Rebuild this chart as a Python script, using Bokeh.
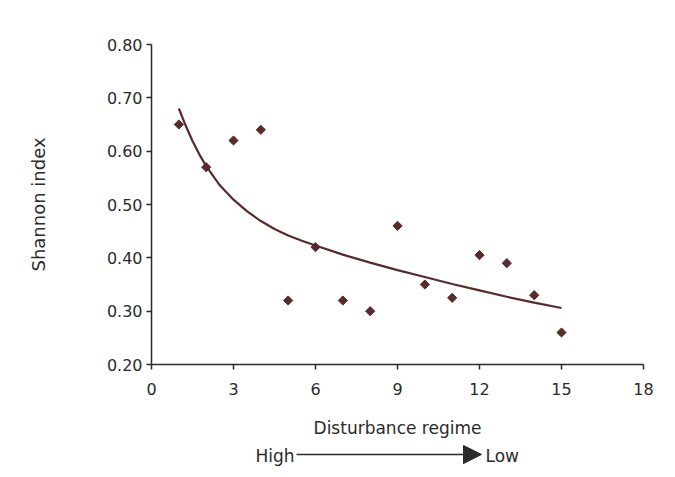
import math
from bokeh.plotting import figure
from bokeh.layouts import column
from bokeh.models import FixedTicker, NumeralTickFormatter, Range1d, Arrow, NormalHead, Label
from bokeh.embed import file_html
from bokeh.resources import INLINE

# ---- data ----
disturbance = [1, 2, 3, 4, 5, 6, 7, 8, 9, 10, 11, 12, 13, 14, 15]
shannon = [0.65, 0.57, 0.62, 0.64, 0.32, 0.42, 0.32, 0.30, 0.46, 0.35, 0.325, 0.405, 0.39, 0.33, 0.26]

# fitted trend curve
trend_x = [1, 1.25, 1.5, 1.75, 2, 2.5, 3, 3.5, 4, 4.5, 5, 5.5, 6, 7, 8, 9, 10, 11, 12, 13, 14, 15]
trend_y = [0.680, 0.648, 0.619, 0.594, 0.572, 0.536, 0.509, 0.487, 0.469, 0.454, 0.442, 0.432,
           0.423, 0.406, 0.391, 0.377, 0.364, 0.351, 0.339, 0.327, 0.316, 0.306]

x_ticks = [0, 3, 6, 9, 12, 15, 18]
y_ticks = [0.20, 0.30, 0.40, 0.50, 0.60, 0.70, 0.80]

x_title = "Disturbance regime"
y_title = "Shannon index"
arrow_left = "High"
arrow_right = "Low"

INK = "#2b2b2b"
MARK = "#5a2a2a"
FONT = "DejaVu Sans"

W = 659
H1 = 440
p = figure(width=W, height=H1, output_backend="svg", toolbar_location=None,
           x_range=Range1d(0, 18), y_range=Range1d(0.20, 0.80),
           min_border_left=151, min_border_right=16, min_border_top=44, min_border_bottom=74)
p.outline_line_color = None
p.grid.visible = False
p.background_fill_color = "white"
p.border_fill_color = "white"

p.line(trend_x, trend_y, line_color=MARK, line_width=2.2)
p.scatter(disturbance, shannon, marker="square", size=6.5, angle=math.pi / 4,
          fill_color=MARK, line_color=MARK)

xa = p.xaxis[0]
xa.ticker = FixedTicker(ticks=x_ticks)
xa.axis_label = x_title
ya = p.yaxis[0]
ya.ticker = FixedTicker(ticks=y_ticks)
ya.formatter = NumeralTickFormatter(format="0.00")
ya.axis_label = y_title

for ax in (xa, ya):
    ax.axis_line_color = INK
    ax.axis_line_width = 1.5
    ax.major_tick_line_color = INK
    ax.major_tick_line_width = 1.5
    ax.major_tick_out = 5
    ax.major_tick_in = 0
    ax.minor_tick_line_color = None
    ax.major_label_text_font = FONT
    ax.major_label_text_font_size = "16px"
    ax.major_label_text_color = INK
    ax.axis_label_text_font = FONT
    ax.axis_label_text_font_style = "normal"
    ax.axis_label_text_color = INK

xa.major_label_standoff = 13
xa.axis_label_text_font_size = "17px"
xa.axis_label_standoff = 20
ya.major_label_standoff = 4
ya.axis_label_text_font_size = "18px"
ya.axis_label_standoff = 55

# ---- "High -> Low" strip under the chart (data units = page pixels) ----
p2 = figure(width=W, height=30, output_backend="svg", toolbar_location=None,
            x_range=Range1d(151, 643), y_range=Range1d(470, 440),
            min_border_left=151, min_border_right=16, min_border_top=0, min_border_bottom=0)
p2.axis.visible = False
p2.grid.visible = False
p2.outline_line_color = None
p2.border_fill_color = "white"
p2.background_fill_color = "white"
p2.add_layout(Label(x=294, y=455, text=arrow_left, text_align="right", text_baseline="middle",
                    text_font=FONT, text_font_size="17px", text_color=INK))
p2.add_layout(Label(x=485, y=455, text=arrow_right, text_align="left", text_baseline="middle",
                    text_font=FONT, text_font_size="17px", text_color=INK))
p2.add_layout(Arrow(x_start=296, y_start=454, x_end=481, y_end=454, line_color=INK, line_width=1.5,
                    end=NormalHead(size=18, fill_color=INK, line_color=INK)))

layout = column(p, p2, spacing=0)
open("out.html", "w").write(file_html(layout, INLINE))
